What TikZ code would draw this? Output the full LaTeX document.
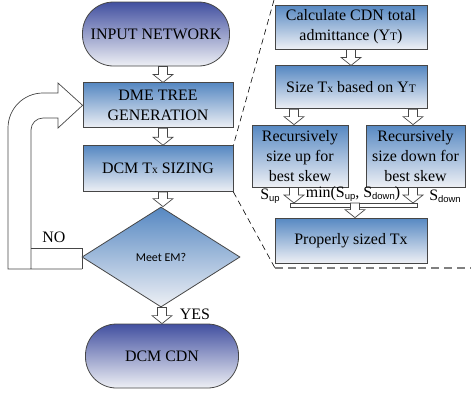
\documentclass[tikz,border=0pt]{standalone}
\usepackage{fontspec}
\setmainfont{Liberation Serif}
\setsansfont{Liberation Sans}
\newfontfamily\calibri{Carlito}
\usetikzlibrary{shapes.geometric,calc,positioning}

\definecolor{deepblue}{RGB}{66,80,160}
\definecolor{steel}{RGB}{86,136,194}
\definecolor{pale}{RGB}{238,240,245}
\definecolor{edge}{RGB}{70,70,70}

\newcommand{\smallx}[1]{{\fontsize{11.5}{12}\selectfont #1}}
\newcommand{\sidx}[1]{\raisebox{-0.3ex}{\sffamily\fontsize{9.5}{10}\selectfont #1}}
\newcommand{\blockarrow}[2]{%
  \draw[hollow] let \p1=#1, \p2=#2 in
    (\x1-4.5bp,\y1) -- (\x1-4.5bp,\y2+8bp) -- (\x1-10bp,\y2+8bp) -- (\x1,\y2)
    -- (\x1+10bp,\y2+8bp) -- (\x1+4.5bp,\y2+8bp) -- (\x1+4.5bp,\y1) -- cycle;}

\tikzset{
  block/.style={draw=edge, line width=0.8pt, top color=steel, bottom color=pale,
    align=center, inner sep=0pt, font=\fontsize{16}{20}\selectfont},
  term/.style={block, top color=deepblue, rounded corners=31bp},
  decision/.style={draw=edge, line width=0.8pt, diamond, top color=steel, bottom color=pale,
    inner sep=0pt, minimum width=158bp, minimum height=100bp, font=\calibri\fontsize{12}{14}\selectfont},
  hollow/.style={draw=edge, line width=0.7pt, fill=white},
  tag/.style={inner sep=0pt, font=\fontsize{16}{18}\selectfont},
}

\begin{document}
\begin{tikzpicture}[x=1bp, y=-1bp]
  \useasboundingbox (0,0) rectangle (471,394);
  % left column
  \node[term, minimum width=147bp, minimum height=64bp] (input) at (156,34) {INPUT NETWORK};
  \node[block, minimum width=150bp, minimum height=45bp, below=16bp of input, xshift=2bp] (dme) {DME TREE\\GENERATION};
  \node[block, minimum width=150bp, minimum height=46bp, below=17bp of dme] (sizing) {DCM T\smallx{x} SIZING};
  \coordinate (col) at (163,0);

  % feedback loop
  \draw[hollow, fill=none] (82,269) -- (8,269) -- (8,128) arc[start angle=180, end angle=90, radius=35bp]
    -- (58,93) -- (58,83) -- (dme.west) -- (58,128) -- (58,118) -- (43,118)
    arc[start angle=90, end angle=180, radius=12bp] -- (31,269);
  \draw[hollow, fill=none] (31,248) -- (82,248) -- (82,269);

  \node[decision] (meet) at (161,257) {Meet EM?};
  \node[term, minimum width=153bp, minimum height=64bp] (cdn) at (162,356) {DCM CDN};
  \node[tag] (no) at (54,237) {NO};
  \node[tag] (yes) at (195,314) {YES};

  \blockarrow{(input.south -| col)}{(dme.north -| col)}
  \blockarrow{(dme.south -| col)}{(sizing.north -| col)}
  \blockarrow{(sizing.south -| col)}{(meet.north -| col)}
  \blockarrow{(meet.south -| cdn.north)}{(cdn.north)}

  % zoomed panel
  \coordinate (zt) at (274,0);
  \coordinate (zb) at (275,268);
  \coordinate (ze) at (471,268);
  \draw[dashed, line width=0.6pt, dash pattern=on 6bp off 4bp] (zt) -- (sizing.north east);
  \draw[dashed, line width=0.6pt, dash pattern=on 6bp off 4bp] (sizing.south east) -- (zb);
  \draw[gray, line width=1.8pt, dash pattern=on 8bp off 5bp] (zb) -- (ze);

  \node[block, minimum width=152bp, minimum height=44bp] (calc) at (351,27) {Calculate CDN total\\admittance (Y\smallx{T})};
  \node[block, minimum width=152bp, minimum height=43bp, below=16bp of calc] (base) {Size T\smallx{x} based on Y\smallx{T}};
  \node[block, minimum width=96bp, minimum height=62bp] (up) at (300,156) {Recursively\\size up for\\best skew};
  \node[block, minimum width=99bp, minimum height=62bp] (down) at (415.5,156) {Recursively\\size down for\\best skew};
  \node[block, minimum width=152bp, minimum height=45bp] (proper) at (351,240.5) {Properly sized Tx};
  \coordinate (lcol) at (294,0);
  \coordinate (rcol) at (413,0);
  \coordinate (mid) at (355,0);
  \coordinate (merge) at (355,203);

  \blockarrow{(calc.south -| base)}{(base.north)}
  \blockarrow{(base.south -| lcol)}{(up.north -| lcol)}
  \blockarrow{(base.south -| rcol)}{(down.north -| rcol)}
  \draw[hollow] (290,203) rectangle (417,207);
  \blockarrow{(up.south -| lcol)}{(merge -| lcol)}
  \blockarrow{(down.south -| rcol)}{(merge -| rcol)}
  \blockarrow{(merge)}{(proper.north -| mid)}

  \node[tag] (sup) at (270,196) {S\sidx{up}};
  \node[tag] (smin) at (353,194) {min(S\sidx{up}, S\sidx{down})};
  \node[tag] (sdown) at (445,196) {S\sidx{down}};
\end{tikzpicture}
\end{document}
